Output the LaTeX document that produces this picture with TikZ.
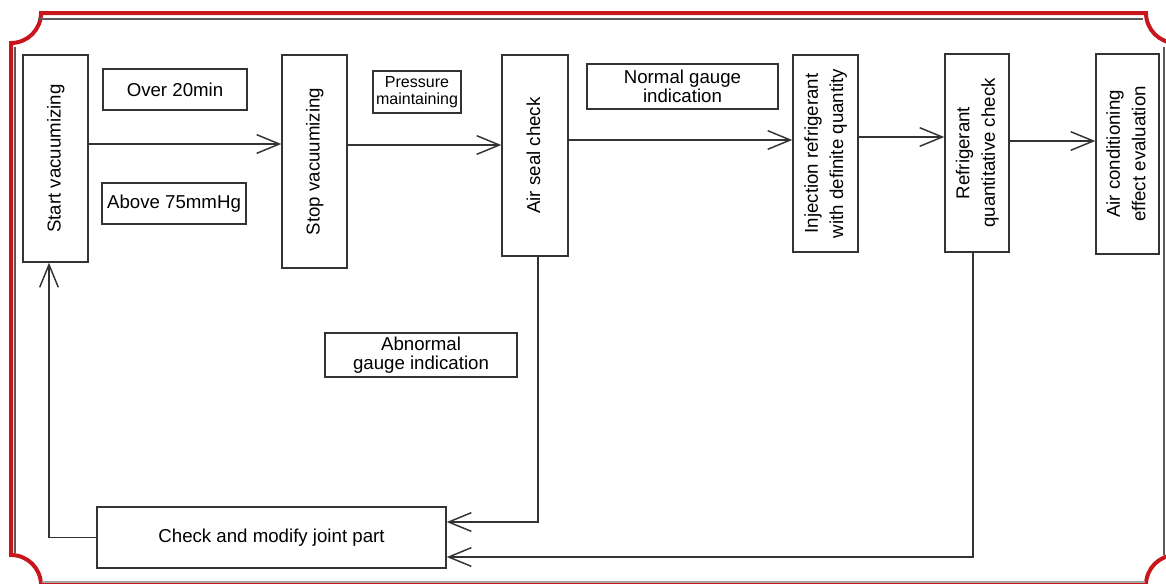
\documentclass[tikz,border=0pt]{standalone}
\usepackage{fontspec}
\setmainfont{Liberation Sans}
\usetikzlibrary{arrows.meta}
\definecolor{FrameRed}{HTML}{C8161D}
\definecolor{LineGray}{HTML}{333333}
\newcommand{\uptext}[1]{\rotatebox{90}{\begin{tabular}{@{}c@{}}#1\end{tabular}}}

\begin{document}
\begin{tikzpicture}[x=.75pt,y=-.75pt,
  box/.style={draw=LineGray,line width=1.1pt,inner sep=0pt,font=\fontsize{14}{19}\selectfont},
  tag/.style={box,align=center,font=\fontsize{14}{14.5}\selectfont},
  flow/.style={draw=LineGray,line width=1.1pt,-{Straight Barb[length=17pt,width=14pt]}}]
  \useasboundingbox (0,0) rectangle (1166,583);
  % frame with cut corners
  \draw[FrameRed,line width=3pt] (11,43) .. controls (27.6,43) and (41,29.6) .. (41,13)
    -- (1146,13) .. controls (1146,29.6) and (1159.4,43) .. (1176,43)
    -- (1176,555) .. controls (1159.4,555) and (1146,568.4) .. (1146,585)
    -- (41,585) .. controls (41,568.4) and (27.6,555) .. (11,555) -- cycle;
  \draw[black!65,line width=.8pt] (38,19) -- (1143,19) (15,47) -- (15,553) (1164,47) -- (1164,555);
  \draw[black!35,line width=.8pt] (42,582) -- (1145,582);
  % steps
  \node[box,minimum width=48.75pt,minimum height=155.25pt] (start) at (55.5,158.5) {\uptext{Start vacuumizing}};
  \node[box,minimum width=48.75pt,minimum height=159.75pt] (stop) at (314.5,161.5) {\uptext{Stop vacuumizing}};
  \node[box,minimum width=49.5pt,minimum height=150.75pt] (air) at (535,155.5) {\uptext{Air seal check}};
  \node[box,minimum width=48.75pt,minimum height=147.75pt] (inj) at (825.5,153.5) {\uptext{Injection refrigerant\\with definite quantity}};
  \node[box,minimum width=48pt,minimum height=148.5pt] (refq) at (977,153) {\uptext{Refrigerant\\quantitative check}};
  \node[box,minimum width=47.25pt,minimum height=150pt] (acev) at (1127.5,154) {\uptext{Air conditioning\\effect evaluation}};
  \node[box,minimum width=261.75pt,minimum height=45.75pt] (chk) at (271.5,537.5) {Check and modify joint part};
  % conditions
  \node[tag,minimum width=108pt,minimum height=30.75pt] (over) at (175,89.5) {Over 20min};
  \node[tag,minimum width=108pt,minimum height=30.75pt] (above) at (174,203.5) {Above 75mmHg};
  \node[tag,minimum width=66pt,minimum height=31.5pt,font=\fontsize{12}{12.5}\selectfont] (press) at (417,92) {Pressure\\maintaining};
  \node[tag,minimum width=143.25pt,minimum height=33.75pt] (normal) at (682.5,86.5) {Normal gauge\\indication};
  \node[tag,minimum width=144pt,minimum height=33pt] (abn) at (421,355) {Abnormal\\gauge indication};
  % connectors
  \draw[flow] (start.east |- 0,144) -- (stop.west |- 0,144);
  \draw[flow] (stop.east |- 0,145) -- (air.west |- 0,145);
  \draw[flow] (air.east |- 0,140) -- (inj.west |- 0,140);
  \draw[flow] (inj.east |- 0,137) -- (refq.west |- 0,137);
  \draw[flow] (refq.east |- 0,141) -- (acev.west |- 0,141);
  \draw[flow] (air.south -| 538,0) |- (chk.east |- 0,522);
  \draw[flow] (refq.south -| 973,0) |- (chk.east |- 0,557);
  \draw[flow] (chk.west) -| (start.south -| 49,0);
\end{tikzpicture}
\end{document}
